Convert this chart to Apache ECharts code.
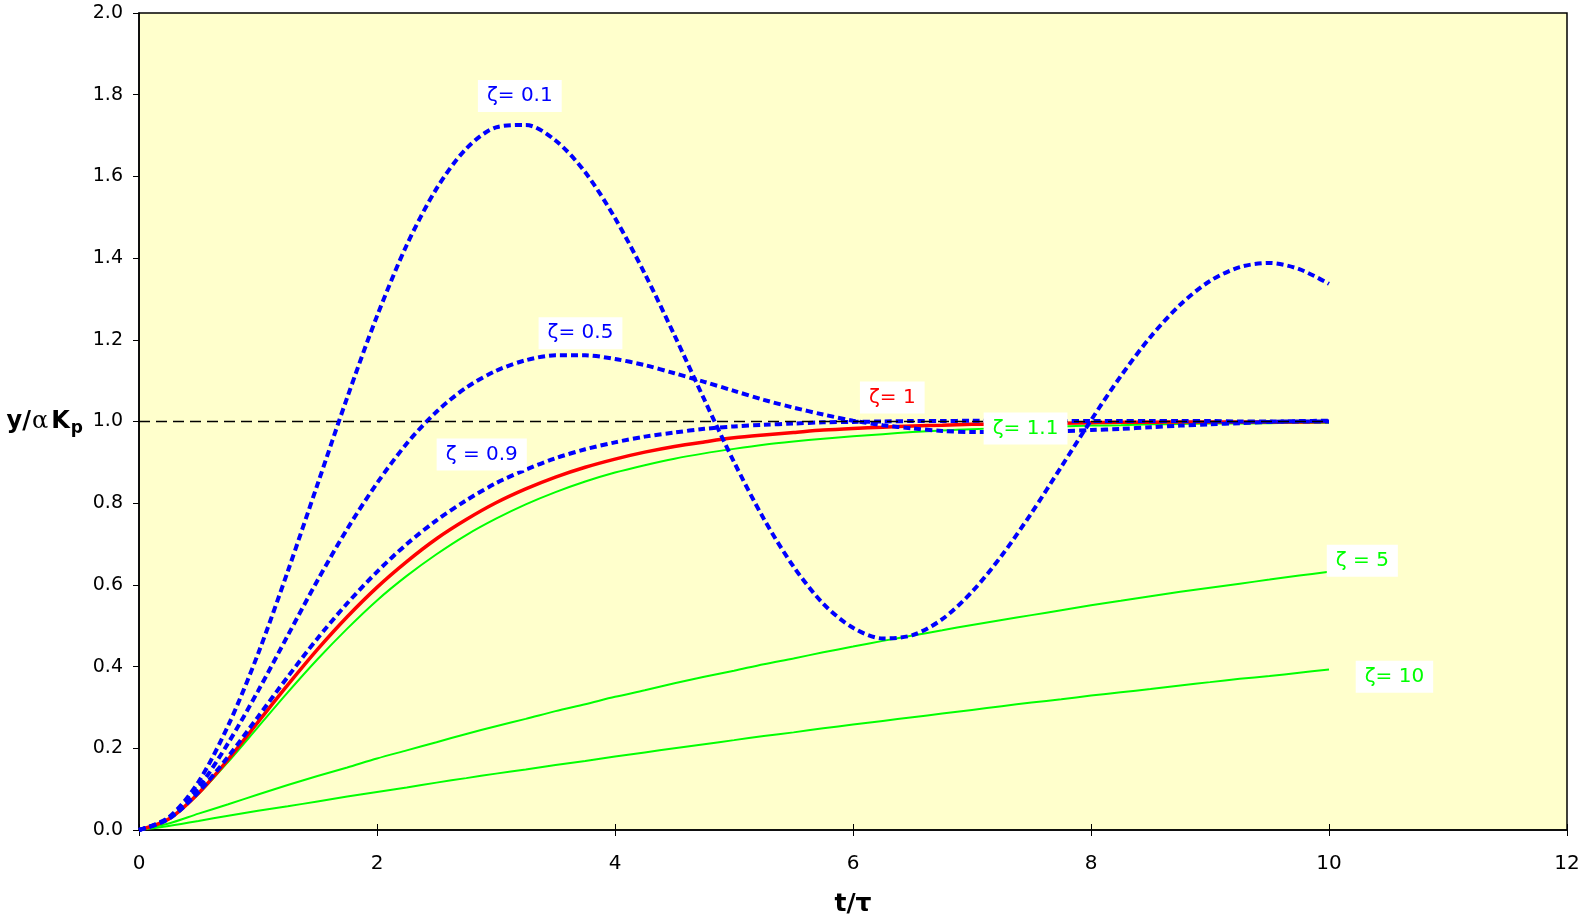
<!DOCTYPE html>
<html>
<head>
<meta charset="utf-8">
<title>Step response, second order system</title>
<script src="https://cdn.jsdelivr.net/npm/echarts@6/dist/echarts.min.js"></script>
<style>
  html, body { margin: 0; padding: 0; background: #fff; }
  #chart { width: 1585px; height: 922px; }
</style>
</head>
<body>
<div id="chart"></div>
<script>
// t/tau sample points
var tValues = [0, 0.25, 0.5, 0.75, 1, 1.25, 1.5, 1.75, 2, 2.25, 2.5, 2.75, 3, 3.25, 3.5, 3.75,
        4, 4.25, 4.5, 4.75, 5, 5.25, 5.5, 5.75, 6, 6.25, 6.5, 6.75, 7, 7.25, 7.5, 7.75,
        8, 8.25, 8.5, 8.75, 9, 9.25, 9.5, 9.75, 10];

// y / alpha Kp for each damping ratio
var zeta01 = [0, 0.031, 0.118, 0.256, 0.431, 0.633, 0.846, 1.059, 1.258, 1.432, 1.570, 1.668, 1.720,
        1.726, 1.688, 1.610, 1.498, 1.362, 1.211, 1.054, 0.901, 0.762, 0.645, 0.554, 0.495,
        0.469, 0.477, 0.516, 0.583, 0.672, 0.776, 0.889, 1.003, 1.111, 1.207, 1.286, 1.344,
        1.378, 1.388, 1.373, 1.337];
var zeta05 = [0, 0.029, 0.104, 0.213, 0.340, 0.476, 0.611, 0.737, 0.849, 0.946, 1.024, 1.083, 1.124,
        1.150, 1.162, 1.162, 1.153, 1.138, 1.118, 1.097, 1.075, 1.053, 1.034, 1.017, 1.002,
        0.991, 0.983, 0.977, 0.974, 0.974, 0.974, 0.976, 0.979, 0.982, 0.986, 0.990, 0.993,
        0.996, 0.999, 1.001, 1.002];
var zeta09 = [0, 0.027, 0.093, 0.180, 0.277, 0.375, 0.469, 0.555, 0.632, 0.700, 0.758, 0.807, 0.849,
        0.882, 0.910, 0.932, 0.949, 0.963, 0.973, 0.982, 0.988, 0.992, 0.995, 0.998, 0.999,
        1.000, 1.001, 1.001, 1.002, 1.002, 1.002, 1.001, 1.001, 1.001, 1.001, 1.001, 1.001,
        1.000, 1.000, 1.000, 1.000];
var zeta1 = [0, 0.027, 0.090, 0.173, 0.264, 0.355, 0.442, 0.522, 0.594, 0.657, 0.713, 0.760, 0.801,
        0.835, 0.864, 0.888, 0.908, 0.925, 0.939, 0.950, 0.960, 0.967, 0.973, 0.979, 0.983,
        0.986, 0.989, 0.991, 0.993, 0.994, 0.995, 0.996, 0.997, 0.998, 0.998, 0.999, 0.999,
        0.999, 0.999, 0.999, 1.000];
var zeta11 = [0, 0.026, 0.088, 0.167, 0.252, 0.337, 0.418, 0.493, 0.562, 0.622, 0.675, 0.722, 0.762,
        0.797, 0.827, 0.853, 0.875, 0.893, 0.909, 0.922, 0.933, 0.943, 0.951, 0.958, 0.964,
        0.969, 0.974, 0.978, 0.981, 0.984, 0.986, 0.988, 0.990, 0.991, 0.993, 0.994, 0.995,
        0.995, 0.996, 0.997, 0.997];
var zeta5 = [0, 0.016, 0.040, 0.063, 0.087, 0.110, 0.132, 0.153, 0.175, 0.195, 0.215, 0.235, 0.254,
        0.272, 0.291, 0.308, 0.326, 0.342, 0.359, 0.375, 0.390, 0.406, 0.420, 0.435, 0.449,
        0.463, 0.476, 0.489, 0.502, 0.514, 0.526, 0.538, 0.550, 0.561, 0.572, 0.583, 0.593,
        0.603, 0.613, 0.623, 0.632];
var zeta10 = [0, 0.010, 0.022, 0.035, 0.047, 0.058, 0.070, 0.082, 0.093, 0.104, 0.116, 0.127, 0.138,
        0.148, 0.159, 0.169, 0.180, 0.190, 0.200, 0.210, 0.220, 0.230, 0.239, 0.249, 0.258,
        0.267, 0.276, 0.285, 0.294, 0.303, 0.312, 0.320, 0.329, 0.337, 0.345, 0.354, 0.362,
        0.370, 0.377, 0.385, 0.393];
// y = 1 reference
var refT = [0, 10];
var refY = [1, 1];

function pairs(xs, ys) {
        var out = [];
        for (var i = 0; i < xs.length; i++) out.push([xs[i], ys[i]]);
        return out;
}

var BLUE = '#0000FF', RED = '#FF0000', GREEN = '#00FF00';
var FONT = 'DejaVu Sans';

function tag(text, color, x, y) {
        return {
                silent: true,
                symbol: 'rect',
                symbolSize: 1,
                itemStyle: { color: 'rgba(0,0,0,0)' },
                label: {
                        show: true,
                        position: 'inside',
                        formatter: text,
                        color: color,
                        fontFamily: FONT,
                        fontSize: 20,
                        backgroundColor: '#FFFFFF',
                        padding: [7, 9, 5, 9]
                },
                data: [{ coord: [x, y] }]
        };
}

function curve(name, ys, color, width, dash, tagText, tx, ty) {
        return {
                name: name,
                type: 'line',
                data: pairs(tValues, ys),
                showSymbol: false,
                symbol: 'none',
                smooth: 0.3,
                lineStyle: { color: color, width: width, type: dash },
                z: 2,
                markPoint: tag(tagText, color, tx, ty)
        };
}

var myChart = echarts.init(document.getElementById('chart'));

var option = {
        animation: false,
        grid: {
                left: 139, right: 18, top: 13, bottom: 91,
                show: true,
                backgroundColor: '#FFFFCC',
                borderColor: '#000',
                borderWidth: 1.5
        },
        xAxis: [
                {
                        type: 'value',
                        min: 0, max: 12, interval: 2,
                        name: 't/τ',
                        nameLocation: 'middle',
                        nameGap: 62,
                        nameTextStyle: { fontFamily: FONT, fontWeight: 'bold', fontSize: 25, color: '#000' },
                        axisLine: { lineStyle: { color: '#000', width: 1.5 } },
                        axisTick: { length: 6, lineStyle: { color: '#000', width: 1 } },
                        axisLabel: { fontFamily: FONT, fontSize: 20, color: '#000', margin: 24 },
                        splitLine: { show: false }
                },
                {
                        type: 'value',
                        min: 0, max: 12, interval: 2,
                        position: 'bottom',
                        axisLine: { show: false },
                        axisTick: { inside: true, length: 6, lineStyle: { color: '#000', width: 1 } },
                        axisLabel: { show: false },
                        splitLine: { show: false }
                }
        ],
        yAxis: {
                type: 'value',
                min: 0, max: 2, interval: 0.2,
                name: '{a|y/}{g|α}{a|K}{s|p}',
                nameLocation: 'middle',
                nameRotate: 0,
                nameGap: 56,
                nameTextStyle: {
                        rich: {
                                a: { fontFamily: FONT, fontWeight: 'bold', fontSize: 24, color: '#000' },
                                g: { fontFamily: 'DejaVu Serif', fontSize: 24, color: '#000', padding: [0, 3, 0, 1] },
                                s: { fontFamily: FONT, fontWeight: 'bold', fontSize: 17, color: '#000', padding: [14, 0, 0, 1] }
                        }
                },
                axisLine: { show: true, lineStyle: { color: '#000', width: 1.5 } },
                axisTick: { length: 6, lineStyle: { color: '#000', width: 1 } },
                axisLabel: {
                        fontFamily: FONT, fontSize: 19, color: '#000', margin: 16,
                        formatter: function (v) { return v.toFixed(1); }
                },
                splitLine: { show: false }
        },
        series: [
                curve('ζ=10', zeta10, GREEN, 2, 'solid', 'ζ= 10', 10.55, 0.375),
                curve('ζ=5', zeta5, GREEN, 2, 'solid', 'ζ = 5', 10.28, 0.659),
                curve('ζ=1.1', zeta11, GREEN, 2, 'solid', 'ζ= 1.1', 7.45, 0.983),
                curve('ζ=1', zeta1, RED, 3.5, 'solid', 'ζ= 1', 6.33, 1.059),
                curve('ζ=0.9', zeta09, BLUE, 4, [7, 4], 'ζ = 0.9', 2.88, 0.919),
                curve('ζ=0.5', zeta05, BLUE, 4, [7, 4], 'ζ= 0.5', 3.71, 1.216),
                curve('ζ=0.1', zeta01, BLUE, 4, [7, 4], 'ζ= 0.1', 3.20, 1.797),
                {
                        name: 'ref',
                        type: 'line',
                        data: pairs(refT, refY),
                        symbol: 'none',
                        lineStyle: { color: '#000', width: 1.3, type: [11, 6] },
                        z: 3
                }
        ]
};
myChart.setOption(option);
</script>
</body>
</html>
